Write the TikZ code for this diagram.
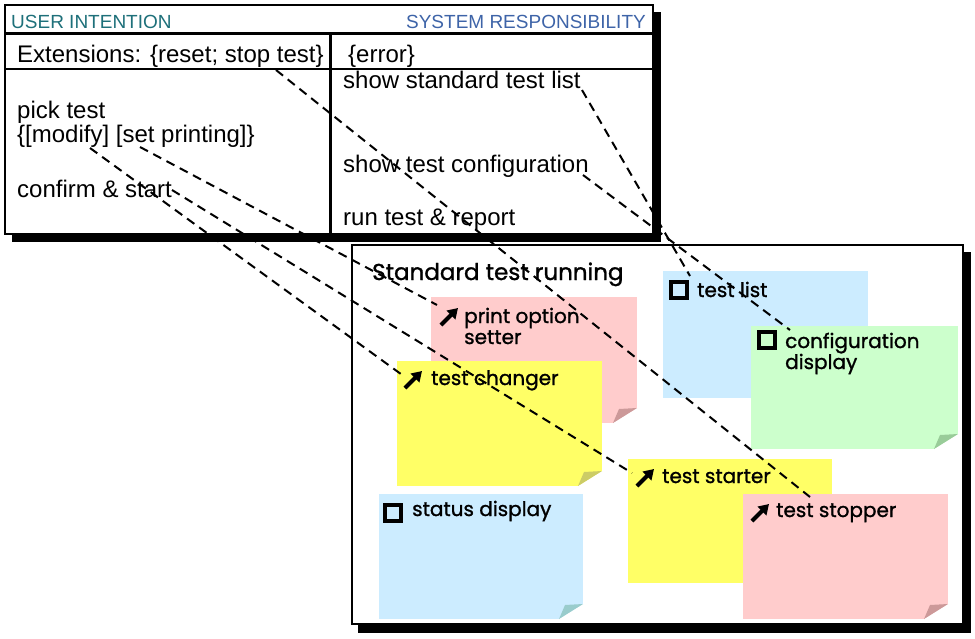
\documentclass[tikz,border=0pt]{standalone}
\usepackage{fontspec}
\setmainfont{Liberation Sans}
\newfontfamily\comicfont[FakeBold=1.2]{Poppins}
\usetikzlibrary{arrows.meta}
\definecolor{pinkc}{HTML}{FFCCCC}
\definecolor{pinkf}{HTML}{CC9999}
\definecolor{yelc}{HTML}{FFFF66}
\definecolor{yelf}{HTML}{CCCC66}
\definecolor{bluec}{HTML}{CCECFF}
\definecolor{bluef}{HTML}{99CCCC}
\definecolor{greenc}{HTML}{CCFFCC}
\definecolor{greenf}{HTML}{99CC99}
\definecolor{uicol}{RGB}{30,112,122}
\definecolor{srcol}{RGB}{62,100,168}
\newcommand\stickynote[7]{%
  \node[notebox, fill=#6, minimum width={#4-#2}, minimum height={#5-#3}] (#1) at (#2,#3) {};
  \fill[white] (#4,#5-15) -- (#4,#5) -- (#4-24,#5) -- cycle;
  \fill[#7] (#4,#5-15) -- (#4-24,#5) -- (#4-18,#5-14) -- cycle;
}
\newcommand\sqicon[3]{\node[sqbox] (#1) at (#2,#3) {};}
\newcommand\arricon[2]{\draw[arricon] (#1,#2) -- ++(17,-17);}
\begin{document}
\begin{tikzpicture}[x=1pt,y=-1pt,
  boxshadow/.style={fill=black, draw=none, anchor=north west, inner sep=0pt, outer sep=0pt},
  framebox/.style={fill=white, draw=black, line width=2pt, anchor=north west, inner sep=0pt, outer sep=0pt},
  tabtxt/.style={anchor=base west, inner sep=0pt, font=\fontsize{24}{28}\selectfont},
  hdr/.style={inner sep=0pt, font=\fontsize{19}{22}\selectfont},
  notebox/.style={draw=none, anchor=north west, inner sep=0pt, outer sep=0pt},
  notetxt/.style={anchor=base west, inner sep=0pt, font=\comicfont\fontsize{20}{23}\selectfont},
  sqbox/.style={draw=black, line width=4pt, minimum width=16pt, minimum height=16pt, inner sep=0pt},
  arricon/.style={line width=4pt, -{Triangle[length=10pt,width=12pt]}},
  link/.style={line width=2pt, dash pattern=on 9pt off 6pt}
]
\useasboundingbox (0,0) rectangle (975,638);
% ---------- top table ----------
\node[boxshadow, minimum width=649pt, minimum height=230pt] (tblsh) at (12,12) {};
\node[framebox, minimum width=648pt, minimum height=229pt] (tbl) at (5,5) {};
\draw[line width=3pt] (5,33) -- (653,33);
\draw[line width=2pt] (5,69) -- (653,69);
\draw[line width=3pt] (330,33) -- (330,234);
\node[hdr, anchor=base west, text=uicol] (ui) at (11,28) {USER INTENTION};
\node[hdr, anchor=base east, text=srcol] (sr) at (646,28) {SYSTEM RESPONSIBILITY};
\node[tabtxt] (ext) at (17,62) {Extensions: \{reset; stop test\}};
\node[tabtxt] (err) at (348,62) {\{error\}};
\node[tabtxt] (ssl) at (343,88) {show standard test list};
\node[tabtxt] (pick) at (17,118) {pick test};
\node[tabtxt] (mod) at (17,142) {\{[modify] [set printing]\}};
\node[tabtxt] (conf) at (17,197) {confirm \& start};
\node[tabtxt] (stc) at (343,172) {show test configuration};
\node[tabtxt] (run) at (343,225) {run test \& report};
% ---------- bottom panel ----------
\node[boxshadow, minimum width=613pt, minimum height=381pt] (pansh) at (358,252) {};
\node[framebox, minimum width=611pt, minimum height=379pt] (pan) at (352,245) {};
\node[notetxt, font=\comicfont\fontsize{23}{26}\selectfont] (title) at (372,280) {Standard test running};
% notes
\stickynote{npos}{431}{297}{637}{423}{pinkc}{pinkf}
\stickynote{ntc}{397}{361}{602}{486}{yelc}{yelf}
\stickynote{ntl}{663}{271}{868}{398}{bluec}{bluef}
\stickynote{ncd}{751}{326}{958}{449}{greenc}{greenf}
\stickynote{nts}{628}{459}{832}{583}{yelc}{yelf}
\stickynote{nsd}{379}{494}{583}{619}{bluec}{bluef}
\stickynote{nst}{743}{494}{948}{619}{pinkc}{pinkf}
% note labels
\arricon{441}{325}
\node[notetxt] (tpos1) at (464,323) {print option};
\node[notetxt] (tpos2) at (464,344) {setter};
\arricon{405}{388}
\node[notetxt] (ttc) at (431,385) {test changer};
\sqicon{itl}{679}{290}
\node[notetxt] (ttl) at (697,297) {test list};
\sqicon{icd}{767}{340}
\node[notetxt] (tcd1) at (785,348) {configuration};
\node[notetxt] (tcd2) at (785,369) {display};
\arricon{637}{486}
\node[notetxt] (tts) at (662,483) {test starter};
\sqicon{isd}{393}{513}
\node[notetxt] (tsd) at (412,516) {status display};
\arricon{752}{521}
\node[notetxt] (tst) at (776,517) {test stopper};
% ---------- dashed links ----------
\coordinate (a1) at (582,90);  \coordinate (a2) at (690,276);
\coordinate (b1) at (583,175); \coordinate (b2) at (790,330);
\coordinate (c1) at (276,70);  \coordinate (c2) at (810,497);
\coordinate (d1) at (140,147); \coordinate (d2) at (437,305);
\coordinate (e1) at (172,190); \coordinate (e2) at (632,473);
\coordinate (f1) at (90,148);  \coordinate (f2) at (405,377);
\draw[link] (a1) -- (a2);
\draw[link] (b1) -- (b2);
\draw[link] (c1) -- (c2);
\draw[link] (d1) -- (d2);
\draw[link] (e1) -- (e2);
\draw[link] (f1) -- (f2);
\end{tikzpicture}
\end{document}
